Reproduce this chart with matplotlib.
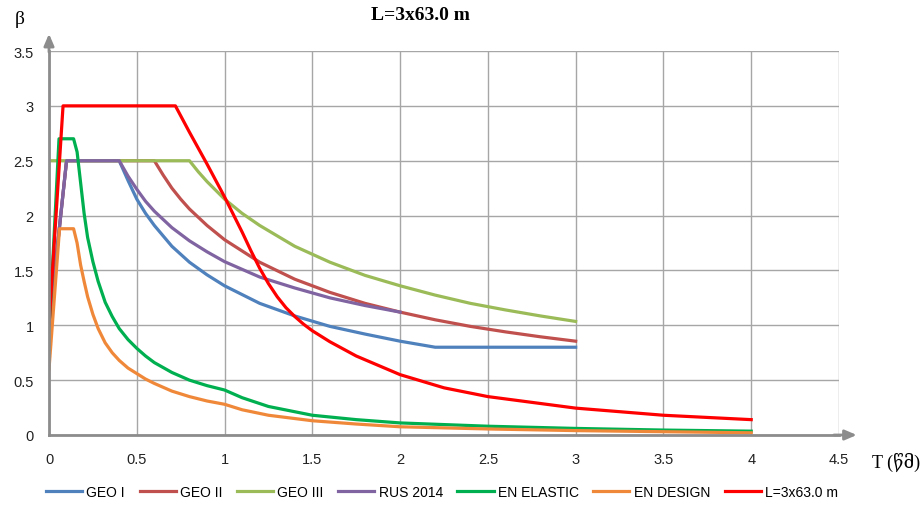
import matplotlib
matplotlib.use("Agg")
import matplotlib.pyplot as plt

# values
geo1_t = [0, 0.1, 0.4, 0.45, 0.5, 0.55, 0.6, 0.7, 0.8, 0.9, 1.0, 1.2, 1.4, 1.6, 1.8, 2.0, 2.2, 3.0]
geo1_b = [1.0, 2.5, 2.5, 2.32, 2.15, 2.02, 1.91, 1.72, 1.575, 1.46, 1.36, 1.2, 1.085, 0.99,
          0.92, 0.855, 0.8, 0.8]

geo2_t = [0, 0.1, 0.6, 0.65, 0.7, 0.75, 0.8, 0.9, 1.0, 1.2, 1.4, 1.6, 1.8, 2.0, 2.2, 2.4,
          2.6, 2.8, 3.0]
geo2_b = [1.0, 2.5, 2.5, 2.37, 2.25, 2.15, 2.06, 1.91, 1.78, 1.575, 1.42, 1.3, 1.2, 1.12,
          1.05, 0.99, 0.94, 0.895, 0.855]

geo3_t = [0, 0.8, 0.85, 0.9, 0.95, 1.0, 1.1, 1.2, 1.4, 1.6, 1.8, 2.0, 2.2, 2.4, 2.6, 2.8, 3.0]
geo3_b = [2.5, 2.5, 2.4, 2.31, 2.23, 2.15, 2.02, 1.91, 1.72, 1.575, 1.455, 1.36, 1.275, 1.2,
          1.14, 1.085, 1.035]

rus_t = [0, 0.1, 0.4, 0.45, 0.5, 0.55, 0.6, 0.7, 0.8, 0.9, 1.0, 1.2, 1.4, 1.6, 1.8, 2.0]
rus_b = [1.0, 2.5, 2.5, 2.36, 2.24, 2.13, 2.04, 1.89, 1.77, 1.67, 1.58, 1.44, 1.34, 1.25,
         1.18, 1.12]

el_t = [0, 0.057, 0.14, 0.16, 0.18, 0.2, 0.22, 0.25, 0.28, 0.32, 0.36, 0.4, 0.45, 0.5,
        0.55, 0.6, 0.7, 0.8, 0.9, 1.0, 1.1, 1.25, 1.5, 1.75, 2.0, 2.5, 3.0, 3.5, 4.0]
el_b = [0.9, 2.7, 2.7, 2.58, 2.3, 2.02, 1.8, 1.58, 1.4, 1.21, 1.08, 0.97, 0.87, 0.79,
        0.72, 0.66, 0.57, 0.5, 0.45, 0.41, 0.34, 0.26, 0.18, 0.14, 0.11, 0.08, 0.06,
        0.045, 0.035]

des_t = [0, 0.06, 0.14, 0.16, 0.18, 0.2, 0.22, 0.25, 0.28, 0.32, 0.36, 0.4, 0.45, 0.5,
         0.55, 0.6, 0.7, 0.8, 0.9, 1.0, 1.1, 1.25, 1.5, 1.75, 2.0, 2.5, 3.0, 3.5, 4.0]
des_b = [0.6, 1.88, 1.88, 1.75, 1.55, 1.4, 1.26, 1.1, 0.97, 0.84, 0.75, 0.68, 0.61, 0.56,
         0.51, 0.47, 0.4, 0.35, 0.31, 0.28, 0.23, 0.18, 0.13, 0.1, 0.075, 0.055, 0.04,
         0.03, 0.02]

l_t = [0, 0.08, 0.72, 0.8, 0.9, 1.0, 1.1, 1.15, 1.2, 1.25, 1.3, 1.35, 1.4, 1.45, 1.5,
       1.6, 1.75, 2.0, 2.25, 2.5, 3.0, 3.5, 4.0]
l_b = [1.0, 3.0, 3.0, 2.76, 2.47, 2.17, 1.85, 1.68, 1.52, 1.38, 1.26, 1.16, 1.08, 1.01,
       0.95, 0.85, 0.72, 0.55, 0.43, 0.35, 0.245, 0.18, 0.14]

series = [
    ("GEO I", geo1_t, geo1_b, "#4F81BD"),
    ("GEO II", geo2_t, geo2_b, "#C0504D"),
    ("GEO III", geo3_t, geo3_b, "#9BBB59"),
    ("RUS 2014", rus_t, rus_b, "#8064A2"),
    ("EN ELASTIC", el_t, el_b, "#00B050"),
    ("EN DESIGN", des_t, des_b, "#F0883A"),
    ("L=3x63.0 m", l_t, l_b, "#FF0000"),
]

x_ticks = [0, 0.5, 1, 1.5, 2, 2.5, 3, 3.5, 4, 4.5]
y_ticks = [0, 0.5, 1, 1.5, 2, 2.5, 3, 3.5]

fig = plt.figure(figsize=(9.24, 5.10), dpi=100)
ax = fig.add_axes([49 / 924, 74 / 510, 790 / 924, 384 / 510])

for name, t, b, c in series:
    ax.plot(t, b, color=c, lw=2.3, label=name, solid_joinstyle="round")

ax.set_xlim(0, 4.5)
ax.set_ylim(0, 3.5)
ax.set_xticks(x_ticks)
ax.set_yticks(y_ticks)
ax.set_xticklabels([f"{v:g}" for v in x_ticks])
ax.set_yticklabels([f"{v:g}" for v in y_ticks])
ax.tick_params(length=0, labelsize=10.5, colors="#222222")
ax.tick_params(axis="x", pad=12)
ax.tick_params(axis="y", pad=11)
for lab in ax.get_xticklabels() + ax.get_yticklabels():
    lab.set_fontfamily("Liberation Sans")
ax.grid(True, color="#A6A6A6", lw=1)
ax.set_axisbelow(True)
for s in ["top", "right"]:
    ax.spines[s].set_visible(False)
for s in ["left", "bottom"]:
    ax.spines[s].set_color("#8C8C8C")
    ax.spines[s].set_linewidth(2)

# axis arrows
arrow = dict(arrowstyle="-|>,head_length=0.7,head_width=0.3", color="#8C8C8C", lw=2)
ax.annotate("", xy=(1.026, 0), xytext=(0.99, 0), xycoords="axes fraction",
            arrowprops=arrow, annotation_clip=False)
ax.annotate("", xy=(0, 1.052), xytext=(0, 0.99), xycoords="axes fraction",
            arrowprops=arrow, annotation_clip=False)

fig.text(420 / 924, 1 - 15 / 510, "L=3x63.0 m", ha="center", va="center",
         fontsize=14, fontweight="bold", family="Liberation Serif")
fig.text(20 / 924, 1 - 20 / 510, "β", ha="center", va="center",
         fontsize=14, family="Liberation Serif")
fig.text(896 / 924, 1 - 462 / 510, "T (წმ)", ha="center", va="center",
         fontsize=13, family=["Liberation Serif", "DejaVu Serif", "DejaVu Sans"])

fig.legend(loc="center", bbox_to_anchor=(442 / 924, 1 - 493 / 510), ncol=7,
           frameon=False, handlelength=2.6, handletextpad=0.3, columnspacing=1.05,
           prop={"family": "Liberation Sans", "size": 10})

fig.savefig("out.png", dpi=100)
